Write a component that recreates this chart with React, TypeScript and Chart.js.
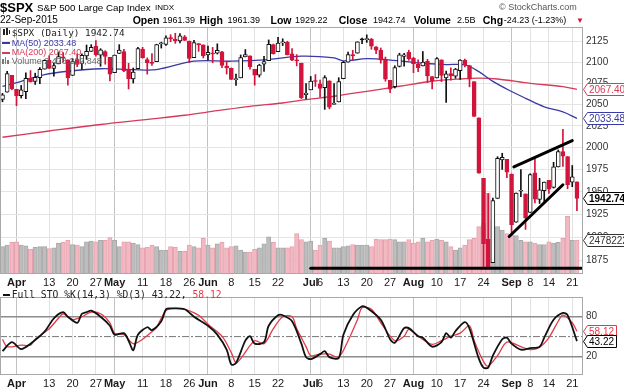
import React, { useEffect, useRef } from 'react';
import { Chart, registerables } from 'chart.js';

Chart.register(...registerables);

// ---------------- data ----------------
const dates = [
  'Mar 27', 'Mar 30', 'Mar 31', 'Apr 1', 'Apr 2', 'Apr 6', 'Apr 7', 'Apr 8', 'Apr 9', 'Apr 10',
  'Apr 13', 'Apr 14', 'Apr 15', 'Apr 16', 'Apr 17', 'Apr 20', 'Apr 21', 'Apr 22', 'Apr 23', 'Apr 24',
  'Apr 27', 'Apr 28', 'Apr 29', 'Apr 30', 'May 1', 'May 4', 'May 5', 'May 6', 'May 7', 'May 8',
  'May 11', 'May 12', 'May 13', 'May 14', 'May 15', 'May 18', 'May 19', 'May 20', 'May 21', 'May 22',
  'May 26', 'May 27', 'May 28', 'May 29', 'Jun 1', 'Jun 2', 'Jun 3', 'Jun 4', 'Jun 5', 'Jun 8',
  'Jun 9', 'Jun 10', 'Jun 11', 'Jun 12', 'Jun 15', 'Jun 16', 'Jun 17', 'Jun 18', 'Jun 19', 'Jun 22',
  'Jun 23', 'Jun 24', 'Jun 25', 'Jun 26', 'Jun 29', 'Jun 30', 'Jul 1', 'Jul 2', 'Jul 6', 'Jul 7',
  'Jul 8', 'Jul 9', 'Jul 10', 'Jul 13', 'Jul 14', 'Jul 15', 'Jul 16', 'Jul 17', 'Jul 20', 'Jul 21',
  'Jul 22', 'Jul 23', 'Jul 24', 'Jul 27', 'Jul 28', 'Jul 29', 'Jul 30', 'Jul 31', 'Aug 3', 'Aug 4',
  'Aug 5', 'Aug 6', 'Aug 7', 'Aug 10', 'Aug 11', 'Aug 12', 'Aug 13', 'Aug 14', 'Aug 17', 'Aug 18',
  'Aug 19', 'Aug 20', 'Aug 21', 'Aug 24', 'Aug 25', 'Aug 26', 'Aug 27', 'Aug 28', 'Aug 31', 'Sep 1',
  'Sep 2', 'Sep 3', 'Sep 4', 'Sep 8', 'Sep 9', 'Sep 10', 'Sep 11', 'Sep 14', 'Sep 15', 'Sep 16',
  'Sep 17', 'Sep 18', 'Sep 21', 'Sep 22',
];

const opens = [
  2055.8, 2064.1, 2084.05, 2067.63, 2060.03, 2064.87, 2080.79, 2076.94, 2081.29, 2091.51,
  2102.03, 2092.28, 2097.82, 2105.96, 2102.58, 2084.11, 2102.82, 2098.27, 2107.21, 2112.8,
  2119.29, 2108.35, 2112.49, 2105.52, 2087.38, 2110.23, 2112.63, 2091.26, 2079.96, 2092.13,
  2115.56, 2102.87, 2099.62, 2100.43, 2122.07, 2121.3, 2129.45, 2127.79, 2125.55, 2130.36,
  2125.34, 2105.13, 2122.27, 2120.66, 2108.64, 2110.41, 2110.64, 2112.35, 2095.09, 2092.34,
  2079.07, 2081.12, 2106.24, 2107.43, 2091.34, 2084.26, 2097.4, 2101.58, 2121.06, 2112.5,
  2123.16, 2123.65, 2109.96, 2102.62, 2098.63, 2061.19, 2067.0, 2078.03, 2073.95, 2069.52,
  2077.66, 2049.73, 2052.74, 2080.03, 2099.72, 2109.01, 2110.55, 2126.8, 2126.85, 2127.55,
  2118.21, 2114.16, 2102.24, 2078.19, 2070.75, 2094.7, 2106.78, 2111.6, 2104.49, 2097.68,
  2095.27, 2100.75, 2082.61, 2080.98, 2102.66, 2081.1, 2086.19, 2083.15, 2089.7, 2101.99,
  2095.69, 2076.61, 2034.08, 1965.15, 1898.08, 1872.75, 1942.77, 1986.06, 1986.73, 1970.09,
  1916.52, 1950.79, 1947.76, 1927.3, 1971.45, 1941.59, 1951.45, 1963.06, 1955.1, 1978.02,
  1995.33, 1989.66, 1960.84, 1961.39,
];

const highs = [
  2062.8, 2088.97, 2084.05, 2067.63, 2072.17, 2086.99, 2089.81, 2086.69, 2093.31, 2102.61,
  2107.65, 2098.62, 2111.91, 2111.3, 2102.58, 2103.94, 2109.64, 2109.98, 2120.49, 2120.92,
  2125.92, 2116.04, 2113.65, 2105.52, 2108.41, 2120.95, 2115.24, 2098.42, 2092.9, 2117.66,
  2117.69, 2105.06, 2110.19, 2121.45, 2123.89, 2131.78, 2133.02, 2134.72, 2134.28, 2132.15,
  2125.34, 2126.22, 2122.27, 2120.66, 2119.15, 2117.59, 2121.92, 2112.89, 2100.99, 2093.01,
  2085.62, 2108.5, 2115.02, 2107.43, 2091.34, 2097.4, 2106.79, 2126.65, 2121.64, 2129.87,
  2128.03, 2125.1, 2116.04, 2108.92, 2098.63, 2074.28, 2082.78, 2085.06, 2078.61, 2083.74,
  2077.66, 2074.28, 2081.31, 2100.67, 2111.98, 2114.14, 2124.42, 2128.91, 2132.82, 2128.49,
  2118.51, 2116.87, 2106.01, 2078.19, 2095.6, 2110.6, 2110.48, 2114.24, 2105.7, 2102.51,
  2112.66, 2103.32, 2082.61, 2105.35, 2102.66, 2089.06, 2092.93, 2092.45, 2102.87, 2103.47,
  2096.17, 2076.61, 2034.08, 1965.15, 1948.04, 1943.09, 1989.6, 1993.48, 1986.73, 1970.09,
  1948.91, 1975.01, 1947.76, 1970.42, 1988.63, 1965.29, 1961.05, 1963.06, 1983.19, 1997.26,
  2020.86, 1989.66, 1979.64, 1961.39,
];

const lows = [
  2052.9, 2064.1, 2067.04, 2048.38, 2057.32, 2056.52, 2076.1, 2073.3, 2074.29, 2091.51,
  2092.33, 2083.24, 2097.82, 2100.02, 2072.37, 2084.11, 2094.38, 2091.05, 2103.19, 2112.8,
  2107.04, 2094.89, 2097.41, 2077.59, 2087.38, 2110.23, 2088.46, 2067.93, 2074.99, 2092.13,
  2104.58, 2085.57, 2096.04, 2100.43, 2116.81, 2120.01, 2124.5, 2122.59, 2122.95, 2126.06,
  2099.18, 2105.13, 2112.86, 2104.89, 2102.54, 2099.14, 2109.61, 2093.23, 2085.67, 2079.11,
  2072.14, 2081.12, 2106.24, 2091.33, 2072.49, 2082.1, 2088.86, 2101.58, 2109.45, 2112.5,
  2119.89, 2108.58, 2101.78, 2095.38, 2056.64, 2056.32, 2067.0, 2071.02, 2058.4, 2044.02,
  2044.66, 2049.73, 2052.74, 2080.03, 2099.72, 2102.49, 2110.55, 2122.01, 2123.66, 2115.4,
  2110.0, 2098.63, 2077.09, 2063.52, 2069.09, 2094.08, 2094.97, 2102.07, 2087.31, 2088.6,
  2095.27, 2075.53, 2067.91, 2080.98, 2076.49, 2052.09, 2078.26, 2080.61, 2079.3, 2094.14,
  2070.53, 2035.73, 1970.89, 1867.01, 1867.08, 1872.75, 1942.77, 1975.19, 1965.98, 1903.07,
  1916.52, 1944.72, 1908.77, 1927.3, 1937.88, 1937.19, 1939.19, 1948.27, 1954.3, 1977.93,
  1978.72, 1953.45, 1955.8, 1929.22,
];

const closes = [
  2061.02, 2086.24, 2067.89, 2059.69, 2066.96, 2080.62, 2076.33, 2081.9, 2091.18, 2102.06,
  2092.43, 2095.84, 2106.63, 2104.99, 2081.18, 2100.4, 2097.29, 2107.96, 2112.93, 2117.69,
  2108.92, 2114.76, 2106.85, 2085.51, 2108.29, 2114.49, 2089.46, 2080.15, 2088.0, 2116.1,
  2105.33, 2099.12, 2098.48, 2121.1, 2122.73, 2129.2, 2127.83, 2125.85, 2131.72, 2126.06,
  2104.2, 2123.48, 2120.79, 2107.39, 2111.73, 2109.6, 2114.07, 2095.84, 2092.83, 2079.28,
  2080.15, 2105.2, 2108.86, 2094.11, 2084.43, 2096.29, 2100.44, 2121.24, 2109.99, 2122.85,
  2124.2, 2108.58, 2102.31, 2101.49, 2057.64, 2063.11, 2077.42, 2076.78, 2068.76, 2081.34,
  2046.68, 2051.31, 2076.62, 2099.6, 2108.95, 2107.4, 2124.29, 2126.64, 2128.28, 2119.21,
  2114.15, 2102.15, 2079.65, 2067.64, 2093.25, 2108.57, 2108.63, 2103.84, 2098.04, 2093.32,
  2099.84, 2083.56, 2077.57, 2104.18, 2084.07, 2086.05, 2083.39, 2091.54, 2102.44, 2096.92,
  2079.61, 2035.73, 1970.89, 1893.21, 1867.61, 1940.51, 1987.66, 1988.87, 1972.18, 1913.85,
  1948.86, 1951.13, 1921.22, 1969.41, 1942.04, 1952.29, 1961.05, 1953.03, 1978.09, 1995.31,
  1990.2, 1958.03, 1966.97, 1942.74,
];

// volume in billions of shares
const volumes = [
  2.0, 2.1, 2.3, 2.35, 2.1, 2.05, 1.8, 1.95, 2.0, 2.0,
  1.85, 1.9, 2.25, 2.3, 2.45, 2.15, 2.1, 2.0, 2.35, 2.4,
  2.35, 2.45, 2.45, 2.65, 2.45, 2.0, 2.35, 2.35, 2.25, 2.15,
  1.9, 1.95, 2.1, 2.0, 1.75, 1.75, 2.0, 1.95, 1.65, 1.65,
  2.1, 2.0, 1.9, 2.6, 2.1, 1.9, 2.2, 2.3, 1.9, 2.0,
  2.05, 1.75, 1.6, 1.6, 1.8, 1.9, 2.2, 2.7, 2.3, 1.9,
  1.9, 1.9, 2.0, 2.95, 2.5, 2.35, 2.4, 1.75, 2.1, 2.6,
  2.4, 1.9, 1.9, 2.0, 2.05, 2.15, 2.1, 2.1, 2.1, 2.0,
  2.55, 2.5, 2.5, 2.55, 2.5, 2.35, 2.35, 2.5, 2.25, 2.35,
  2.6, 2.35, 2.45, 2.55, 2.45, 2.35, 2.0, 1.75, 1.9, 2.1,
  2.5, 2.6, 3.45, 3.7, 5.9, 3.95, 3.45, 3.2, 2.95, 2.85,
  2.8, 2.45, 2.35, 2.35, 2.25, 2.15, 2.15, 2.35, 2.25, 2.3,
  2.6, 4.2, 2.45, 2.478222848,
];

const tickIdx = [3, 10, 15, 20, 24, 30, 35, 40, 44, 49, 54, 59, 66, 68, 73, 78, 83, 88, 93, 98, 103, 109, 113, 117, 122];
const tickText = ['Apr', '13', '20', '27', 'May', '11', '18', '26', 'Jun', '8', '15', '22', 'Jul', '6', '13', '20', '27', 'Aug', '10', '17', '24', 'Sep', '8', '14', '21'];
const monthIdx = [3, 24, 44, 66, 88, 109];

const priceTicks = [1875, 1900, 1925, 1950, 1975, 2000, 2025, 2050, 2075, 2100, 2125];
const stoTicks = [20, 80];

const ma50Idx = [0, 4, 9, 14, 21, 28, 33, 41, 49, 57, 64, 71, 73, 78, 82, 89, 95, 99, 102, 105, 109, 112, 116, 120, 123];
const ma50Val = [2071, 2077, 2085, 2089, 2092, 2091, 2091, 2101, 2101, 2103, 2107, 2105, 2101.5, 2104, 2103, 2099, 2097, 2096.5, 2088.5, 2077, 2065, 2057, 2047, 2041, 2033.48];

const ma200Idx = [0, 10, 21, 32, 39, 46, 53, 60, 65, 71, 78, 85, 92, 98, 102, 106, 113, 120, 123];
const ma200Val = [2011.8, 2019, 2026.5, 2032.9, 2037.2, 2042.5, 2047.6, 2051.5, 2055.4, 2059.4, 2065.2, 2071.2, 2077.1, 2079.8, 2080.7, 2079.8, 2074.7, 2070.7, 2067.4];

const stoKIdx = [0, 2, 4, 6, 9, 11, 13, 14, 16, 17, 18, 19, 21, 23, 24, 26, 27, 28, 29, 31, 32, 34, 35, 36, 39, 41, 44, 46, 48, 49, 50, 52, 53, 54, 56, 57, 59, 60, 62, 64, 65, 66, 68, 69, 70, 72, 73, 75, 77, 78, 81, 83, 84, 86, 87, 89, 90, 92, 94, 95, 96, 97, 99, 100, 102, 103, 104, 105, 107, 108, 109, 111, 113, 115, 116, 118, 120, 121, 123];
const stoKVal = [28, 41.6, 31.2, 39.3, 57.4, 77.7, 86.8, 80, 70.9, 84.5, 86.8, 89.1, 80, 66.4, 52.9, 55.2, 43.8, 29.4, 52.9, 64.1, 59.7, 73.2, 91.3, 92.6, 91.3, 80, 66.4, 52.9, 30.3, 7.8, 10, 43.8, 50.6, 39.3, 41.6, 66.4, 82.3, 82.3, 73.2, 39.3, 19, 16, 23.5, 28, 19, 17.7, 52.9, 82.3, 95.8, 93.6, 75.5, 46, 40.7, 62.8, 62.8, 50.6, 48.4, 34.8, 41.6, 55.2, 48.4, 58.3, 71.9, 62, 16.7, 3.2, 3.2, 21.3, 46, 48.4, 39.3, 30.3, 32.6, 34.8, 48.4, 75.5, 85.8, 82.3, 43.22];

const stoDIdx = [0, 1, 4, 6, 7, 10, 12, 13, 15, 17, 19, 21, 23, 24, 26, 28, 30, 32, 33, 35, 37, 39, 42, 44, 47, 49, 50, 51, 54, 56, 58, 60, 62, 63, 65, 66, 68, 70, 72, 74, 76, 77, 79, 81, 84, 86, 87, 89, 92, 94, 96, 98, 100, 101, 103, 104, 106, 108, 111, 113, 115, 117, 119, 120, 122, 123];
const stoDVal = [46, 34.8, 37, 37, 46, 62, 77.7, 84.5, 75.5, 80, 86.8, 84.5, 70.9, 55.2, 52.9, 39.3, 46, 57.4, 64.1, 89.1, 92.6, 91.3, 82.3, 68.7, 50.6, 25.8, 10, 16.7, 43.8, 39.3, 62, 80, 80, 62, 34.8, 21.3, 23.5, 23.5, 19, 43.8, 75.5, 93.6, 91.3, 70.9, 43.8, 50.6, 61, 50.6, 38.4, 43.8, 50.6, 55.2, 66.4, 43.8, 12.2, 5.4, 21.3, 41.6, 34.8, 30.3, 33.9, 48.4, 73.2, 82.3, 70.9, 58.12];

// annotations: [date index, price]
const trendUpper = [[109.5, 1978], [122, 2008]];
const trendLower = [[108.5, 1901], [120, 1958]];
const supportLine = [[66, 1867], [124.3, 1867]];
const stoMidLevel = 50;

// ---------------- styling constants ----------------
const FONT = '"Liberation Sans", Arial, sans-serif';
const MONO = '"DejaVu Sans Mono", monospace';
const RED = '#d2143c';
const BLUE = '#3a3aa6';
const MA_RED = '#d63a58';
const X_MIN = -0.533;
const X_MAX = 124.3;
const P_MIN = 1860.8;
const P_MAX = 2142.4;
const VOL_MAX = 18.0;
const STO_MIN = -8;
const STO_MAX = 109.8;

const idx = closes.map((_, i) => i);
const prevClose = (i: number) => (i === 0 ? opens[0] : closes[i - 1]);
const isDown = (i: number) => closes[i] < prevClose(i);
const candleColor = idx.map((i) => (isDown(i) ? RED : '#111'));
const bodyFill = idx.map((i) => (closes[i] > opens[i] ? '#ffffff' : candleColor[i]));

function xScale(height: number) {
  return {
    type: 'linear',
    min: X_MIN,
    max: X_MAX,
    offset: false,
    position: 'bottom',
    afterBuildTicks: (s: any) => {
      s.ticks = tickIdx.map((v) => ({ value: v }));
    },
    afterFit: (s: any) => {
      s.height = height;
    },
    grid: {
      offset: false,
      drawTicks: false,
      color: (c: any) => (c.tick && monthIdx.includes(c.tick.value) ? '#c2c2c2' : '#e2e2e2'),
    },
    border: { display: false },
    ticks: {
      autoSkip: false,
      maxRotation: 0,
      minRotation: 0,
      padding: 2,
      color: '#1a1a1a',
      font: (c: any) => ({
        family: FONT,
        size: 11,
        weight: c.tick && monthIdx.includes(c.tick.value) ? 'bold' : 'normal',
      }),
      callback: (_v: any, i: number) => tickText[i],
    },
  };
}

function drawTag(ctx: CanvasRenderingContext2D, x0: number, y: number, text: string, color: string, bold: boolean) {
  ctx.save();
  ctx.font = `${bold ? 'bold ' : ''}10px ${FONT}`;
  const w = ctx.measureText(text).width + 4;
  const h = 12;
  const yy = Math.round(y) + 0.5;
  ctx.beginPath();
  ctx.moveTo(x0 + 0.5, yy);
  ctx.lineTo(x0 + 4.5, yy - h / 2);
  ctx.lineTo(x0 + 4.5 + w, yy - h / 2);
  ctx.lineTo(x0 + 4.5 + w, yy + h / 2);
  ctx.lineTo(x0 + 4.5, yy + h / 2);
  ctx.closePath();
  ctx.fillStyle = '#fff';
  ctx.fill();
  ctx.strokeStyle = color;
  ctx.lineWidth = 1;
  ctx.stroke();
  ctx.fillStyle = color;
  ctx.textBaseline = 'middle';
  ctx.fillText(text, x0 + 6, Math.round(y) + 1);
  ctx.restore();
}

type Tag = { axis: string; value: number; text: string; color: string; bold: boolean };

function framePlugin(tags: Tag[]) {
  return {
    id: 'frameTags',
    afterDraw(chart: any) {
      const ctx = chart.ctx as CanvasRenderingContext2D;
      const a = chart.chartArea;
      ctx.save();
      ctx.strokeStyle = '#a8a8a8';
      ctx.lineWidth = 1;
      ctx.strokeRect(a.left + 0.5, a.top + 0.5, a.right - a.left - 1, a.bottom - a.top - 1);
      ctx.restore();
      for (const t of tags) {
        const y = chart.scales[t.axis].getPixelForValue(t.value);
        drawTag(ctx, a.right, y, t.text, t.color, t.bold);
      }
    },
  };
}

function MainChart() {
  const ref = useRef<HTMLCanvasElement>(null);
  useEffect(() => {
    const last = closes.length - 1;
    const chart = new Chart(ref.current as HTMLCanvasElement, {
      type: 'bar',
      data: {
        datasets: [
          {
            type: 'bar',
            label: 'Volume',
            yAxisID: 'yVol',
            data: idx.map((i) => ({ x: i, y: volumes[i] })),
            backgroundColor: idx.map((i) => (isDown(i) ? '#f2b9c3' : '#bdbdbd')),
            borderColor: idx.map((i) => (isDown(i) ? '#e7a2ae' : '#a9a9a9')),
            borderWidth: 1,
            borderSkipped: 'start',
            barThickness: 4.3,
            grouped: false,
            order: 10,
          } as any,
          {
            type: 'line',
            label: 'MA(200)',
            yAxisID: 'y',
            data: ma200Idx.map((x, k) => ({ x, y: ma200Val[k] })),
            borderColor: MA_RED,
            borderWidth: 1.3,
            pointRadius: 0,
            tension: 0.35,
            order: 9,
          } as any,
          {
            type: 'line',
            label: 'MA(50)',
            yAxisID: 'y',
            data: ma50Idx.map((x, k) => ({ x, y: ma50Val[k] })),
            borderColor: BLUE,
            borderWidth: 1.3,
            pointRadius: 0,
            tension: 0.35,
            order: 8,
          } as any,
          {
            type: 'bar',
            label: 'wick',
            yAxisID: 'y',
            data: idx.map((i) => ({ x: i, y: [lows[i], highs[i]] })),
            backgroundColor: candleColor,
            barThickness: 1,
            minBarLength: 1,
            grouped: false,
            order: 7,
          } as any,
          {
            type: 'bar',
            label: '$SPX',
            yAxisID: 'y',
            data: idx.map((i) => ({ x: i, y: [opens[i], closes[i]] })),
            backgroundColor: bodyFill,
            borderColor: candleColor,
            borderWidth: 1,
            borderSkipped: false,
            barThickness: 4,
            minBarLength: 1,
            grouped: false,
            order: 6,
          } as any,
          ...[trendUpper, trendLower, supportLine].map((seg) => ({
            type: 'line',
            yAxisID: 'y',
            data: seg.map(([x, y]) => ({ x, y })),
            borderColor: '#000',
            borderWidth: 3,
            pointRadius: 0,
            borderCapStyle: 'round',
            order: 1,
          })) as any,
        ],
      },
      options: {
        responsive: false,
        animation: false,
        events: [],
        layout: { padding: { top: 27, left: 0, right: 0, bottom: 0 } },
        plugins: { legend: { display: false }, tooltip: { enabled: false } },
        scales: {
          x: xScale(14) as any,
          y: {
            type: 'logarithmic',
            position: 'right',
            min: P_MIN,
            max: P_MAX,
            afterBuildTicks: (s: any) => {
              s.ticks = priceTicks.map((v) => ({ value: v }));
            },
            afterFit: (s: any) => {
              s.width = 41;
            },
            grid: { drawTicks: false, color: '#e4e4e4' },
            border: { display: false },
            ticks: {
              padding: 3,
              color: '#333',
              font: { family: FONT, size: 10 },
              callback: (v: any) => String(v),
            },
          } as any,
          yVol: { type: 'linear', display: false, min: 0, max: VOL_MAX } as any,
        },
      },
      plugins: [
        framePlugin([
          { axis: 'y', value: ma200Val[ma200Val.length - 1], text: ma200Val[ma200Val.length - 1].toFixed(2), color: MA_RED, bold: false },
          { axis: 'y', value: ma50Val[ma50Val.length - 1], text: ma50Val[ma50Val.length - 1].toFixed(2), color: BLUE, bold: false },
          { axis: 'y', value: closes[last], text: closes[last].toFixed(2), color: '#000', bold: true },
          { axis: 'yVol', value: volumes[last], text: String(Math.round(volumes[last] * 1e9)), color: '#333', bold: false },
        ]) as any,
      ],
    });
    return () => chart.destroy();
  }, []);
  return (
    <canvas
      ref={ref}
      width={624}
      height={288}
      style={{ position: 'absolute', left: 0, top: 0, width: 624, height: 288 }}
    />
  );
}

function StochChart() {
  const ref = useRef<HTMLCanvasElement>(null);
  useEffect(() => {
    const chart = new Chart(ref.current as HTMLCanvasElement, {
      type: 'line',
      data: {
        datasets: [
          {
            data: [
              { x: X_MIN, y: stoMidLevel },
              { x: X_MAX, y: stoMidLevel },
            ],
            borderColor: '#777',
            borderWidth: 1,
            borderDash: [7, 2, 2, 2],
            pointRadius: 0,
            order: 5,
          },
          {
            label: '%D(3)',
            data: stoDIdx.map((x, k) => ({ x, y: stoDVal[k] })),
            borderColor: '#e23a48',
            borderWidth: 1.3,
            pointRadius: 0,
            tension: 0.3,
            order: 3,
          },
          {
            label: '%K(14,3)',
            data: stoKIdx.map((x, k) => ({ x, y: stoKVal[k] })),
            borderColor: '#111',
            borderWidth: 1.8,
            pointRadius: 0,
            tension: 0.3,
            order: 2,
          },
        ] as any,
      },
      options: {
        responsive: false,
        animation: false,
        events: [],
        layout: { padding: 0 },
        plugins: { legend: { display: false }, tooltip: { enabled: false } },
        scales: {
          x: xScale(15) as any,
          y: {
            type: 'linear',
            position: 'right',
            min: STO_MIN,
            max: STO_MAX,
            afterBuildTicks: (s: any) => {
              s.ticks = stoTicks.map((v) => ({ value: v }));
            },
            afterFit: (s: any) => {
              s.width = 41;
            },
            grid: { drawTicks: false, color: '#8c8c8c', lineWidth: 1.5 },
            border: { display: false },
            ticks: {
              padding: 3,
              color: '#333',
              font: { family: FONT, size: 10 },
              callback: (v: any) => String(v),
            },
          } as any,
        },
      },
      plugins: [
        framePlugin([
          { axis: 'y', value: stoDVal[stoDVal.length - 1], text: stoDVal[stoDVal.length - 1].toFixed(2), color: '#e23a48', bold: false },
          { axis: 'y', value: stoKVal[stoKVal.length - 1], text: stoKVal[stoKVal.length - 1].toFixed(2), color: '#000', bold: false },
        ]) as any,
      ],
    });
    return () => chart.destroy();
  }, []);
  return (
    <canvas
      ref={ref}
      width={624}
      height={102}
      style={{ position: 'absolute', left: 0, top: 288, width: 624, height: 102 }}
    />
  );
}

function T(props: { x: number; y: number; size: number; bold?: boolean; color?: string; family?: string; children: any }) {
  const { x, y, size, bold, color, family, children } = props;
  return (
    <div
      style={{
        position: 'absolute',
        left: x,
        top: y - size * 0.6,
        fontSize: size,
        lineHeight: `${size * 1.2}px`,
        fontWeight: bold ? 'bold' : 'normal',
        color: color || '#000',
        fontFamily: family || FONT,
        whiteSpace: 'nowrap',
      }}
    >
      {children}
    </div>
  );
}

function Box(props: { x: number; y: number; w: number; h: number; color: string }) {
  return <div style={{ position: 'absolute', left: props.x, top: props.y, width: props.w, height: props.h, background: props.color }} />;
}

export default function App() {
  const last = closes.length - 1;
  return (
    <div style={{ position: 'fixed', left: 0, top: 0, width: 624, height: 390, background: '#fff', overflow: 'hidden', fontFamily: FONT }}>
      <MainChart />
      <StochChart />

      {/* header line 1 */}
      <T x={0} y={8} size={13} bold>$SPX</T>
      <T x={37} y={7.5} size={9.8}>S&amp;P 500 Large Cap Index</T>
      <T x={155} y={8} size={8}>INDX</T>
      <T x={499} y={7} size={9} color="#555">© StockCharts.com</T>

      {/* header line 2 */}
      <T x={0} y={20} size={10}>22-Sep-2015</T>
      <T x={132.7} y={20.5} size={10.5} bold>Open</T>
      <T x={162.5} y={20.5} size={9}>{opens[last].toFixed(2)}</T>
      <T x={199.5} y={20.5} size={10.5} bold>High</T>
      <T x={227.5} y={20.5} size={9}>{highs[last].toFixed(2)}</T>
      <T x={270.5} y={20.5} size={10.5} bold>Low</T>
      <T x={295} y={20.5} size={9}>{lows[last].toFixed(2)}</T>
      <T x={338.7} y={20.5} size={10.5} bold>Close</T>
      <T x={373} y={20.5} size={9}>{closes[last].toFixed(2)}</T>
      <T x={413.7} y={20.5} size={10.5} bold>Volume</T>
      <T x={457} y={20.5} size={9}>2.5B</T>
      <T x={482.7} y={20.5} size={10.5} bold>Chg</T>
      <T x={503.7} y={20.5} size={9}>-24.23 (-1.23%)</T>
      <T x={576} y={20.5} size={8} color={RED}>▼</T>

      {/* main legend */}
      <Box x={3} y={29} w={2} h={6} color="#222" />
      <Box x={6} y={28} w={2} h={7} color="#222" />
      <Box x={9} y={30} w={1} h={4} color="#222" />
      <T x={11.7} y={32.5} size={9.4} family={MONO} color="#222">$SPX (Daily) {closes[last].toFixed(2)}</T>
      <Box x={2} y={42} w={8} h={2} color={BLUE} />
      <T x={11.7} y={43} size={9} color={BLUE}>MA(50) {ma50Val[ma50Val.length - 1].toFixed(2)}</T>
      <Box x={2} y={51.5} w={8} h={2} color={MA_RED} />
      <T x={11.7} y={52.5} size={9} color={MA_RED}>MA(200) {ma200Val[ma200Val.length - 1].toFixed(2)}</T>
      <Box x={2} y={59} w={1.5} h={5} color="#777" />
      <Box x={4.5} y={57} w={1.5} h={7} color="#777" />
      <Box x={7} y={60} w={1.5} h={4} color="#777" />
      <T x={11.7} y={61.5} size={9} color="#666">Volume 2,478,222,848</T>

      {/* stochastic legend */}
      <Box x={3} y={294} w={7} h={2} color="#111" />
      <T x={11.7} y={295} size={9.7} family={MONO} color="#222">
        Full STO %K(14,3) %D(3) {stoKVal[stoKVal.length - 1].toFixed(2)}, <span style={{ color: '#e23a48' }}>{stoDVal[stoDVal.length - 1].toFixed(2)}</span>
      </T>
    </div>
  );
}
